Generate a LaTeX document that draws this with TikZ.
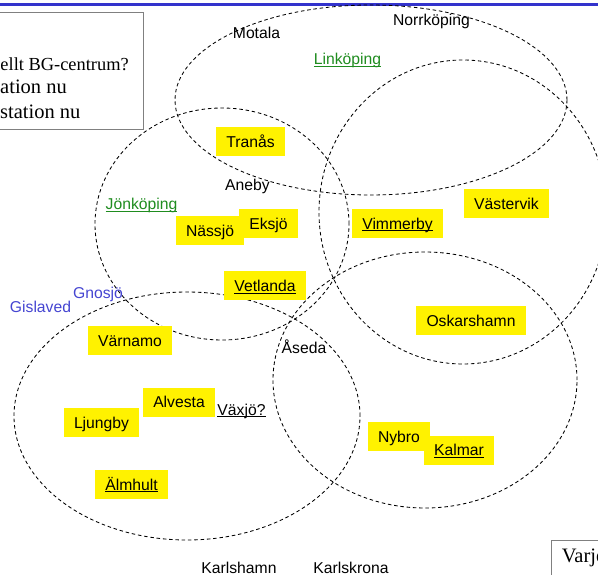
\documentclass[tikz,border=0pt]{standalone}
\usepackage{fontspec}
\setmainfont{Liberation Sans}
\newfontfamily\notefont{Liberation Serif}
% underline set just below the baseline, cutting through descenders
\newcommand\cityul[1]{\setbox0\hbox{#1}\rlap{\rule[-1.9pt]{\wd0}{0.95pt}}\box0}
\definecolor{barblue}{rgb}{0.2,0.2,0.8}
\definecolor{linkgreen}{rgb}{0.12,0.55,0.12}
\definecolor{smallblue}{rgb}{0.27,0.27,0.82}
\begin{document}
\begin{tikzpicture}[x=1pt,y=-1pt,
  zone/.style={draw=black, dash pattern=on 3.5pt off 2.8pt, line width=0.85pt},
  city/.style={font=\fontsize{15.7}{18}\selectfont, text height=11.2pt, text depth=0pt, inner sep=0pt},
  townbox/.style={city, fill=yellow, inner xsep=10.5pt, minimum height=29pt},
  notebox/.style={draw=black!50, line width=0.8pt, fill=white},
  notetext/.style={font=\notefont, anchor=base west, inner sep=0pt}
]
\useasboundingbox (0,0) rectangle (598,575);
\begin{scope}
\clip (0,0) rectangle (598,575);

% heading rule
\draw[barblue, line width=3pt] (0,4.2) -- (598,4.2);

% side notes, partly outside the frame
\node[notebox, minimum width=160pt, minimum height=116.5pt, inner sep=0pt] (noteL) at (63.5,70.75) {};
\node[notetext, font=\notefont\fontsize{18.4}{20}\selectfont] (noteLa) at (0.3,71) {ellt BG-centrum?};
\node[notetext, font=\notefont\fontsize{20.5}{22}\selectfont] (noteLb) at (0,94) {ation nu};
\node[notetext, font=\notefont\fontsize{20.5}{22}\selectfont] (noteLc) at (0,118.5) {station nu};

\node[notebox, minimum width=80pt, minimum height=60pt, inner sep=0pt] (noteR) at (591,570) {};
\node[notetext, font=\notefont\fontsize{20.5}{22}\selectfont] (noteRa) at (561.7,562) {Varje};

% regions
\draw[zone] (371,100) ellipse [x radius=196pt, y radius=95pt];
\draw[zone] (222,224) ellipse [x radius=127pt, y radius=116pt];
\draw[zone] (463,212) ellipse [x radius=144pt, y radius=152pt];
\draw[zone] (187,416) ellipse [x radius=173pt, y radius=124pt];
\draw[zone] (425,380) ellipse [x radius=152pt, y radius=128pt];

% places without a station
\node[city] (motala) at (256.5,32.5) {Motala};
\node[city] (norrkoping) at (431.5,19.5) {Norrköping};
\node[city, text=linkgreen] (linkoping) at (347.5,59) {\cityul{Linköping}};
\node[city] (aneby) at (247.5,184.5) {Aneby};
\node[city, text=linkgreen] (jonkoping) at (141.5,204) {\cityul{Jönköping}};
\node[city] (aseda) at (304,347.5) {Åseda};
\node[city, text=smallblue] (gnosjo) at (98,293) {Gnosjö};
\node[city, text=smallblue] (gislaved) at (40.5,307) {Gislaved};
\node[city] (vaxjo) at (241.5,409.5) {\cityul{Växjö?}};
\node[city] (karlshamn) at (239,567.5) {Karlshamn};
\node[city] (karlskrona) at (351,567.5) {Karlskrona};

% stations
\node[townbox] (tranas) at (250.5,141.5) {Tranås};
\node[townbox] (nassjo) at (210,230.5) {Nässjö};
\node[townbox] (eksjo) at (268.5,224) {Eksjö};
\node[townbox] (vetlanda) at (265,286) {\cityul{Vetlanda}};
\node[townbox] (vimmerby) at (397.5,223.5) {\cityul{Vimmerby}};
\node[townbox] (vastervik) at (506.5,203.5) {Västervik};
\node[townbox] (oskarshamn) at (471,320.5) {Oskarshamn};
\node[townbox] (varnamo) at (130,340.5) {Värnamo};
\node[townbox] (alvesta) at (179,402) {Alvesta};
\node[townbox] (ljungby) at (101.5,422.5) {Ljungby};
\node[townbox] (almhult) at (131.5,484.5) {\cityul{Älmhult}};
\node[townbox] (nybro) at (399,436.5) {Nybro};
\node[townbox] (kalmar) at (459,450) {\cityul{Kalmar}};
\end{scope}
\end{tikzpicture}
\end{document}
